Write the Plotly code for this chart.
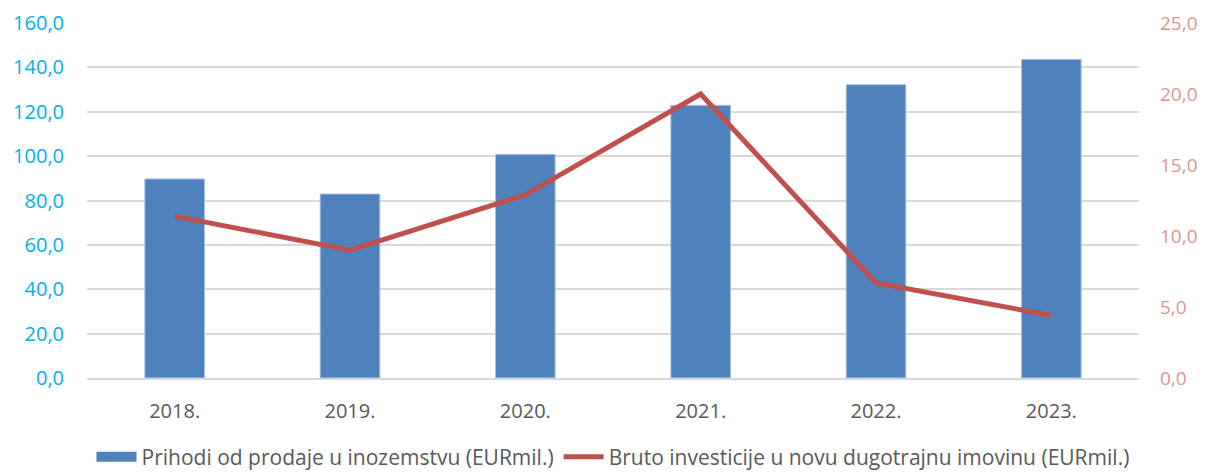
import plotly.graph_objects as go

years = ["2018.", "2019.", "2020.", "2021.", "2022.", "2023."]
revenue_abroad = [89.7, 82.9, 100.8, 122.9, 132.2, 143.6]
gross_investment = [11.4, 9.0, 12.9, 20.0, 6.7, 4.4]
left_ticks = [0, 20, 40, 60, 80, 100, 120, 140, 160]
left_labels = ["0,0", "20,0", "40,0", "60,0", "80,0", "100,0", "120,0", "140,0", "160,0"]
right_ticks = [0, 5, 10, 15, 20, 25]
right_labels = ["0,0", "5,0", "10,0", "15,0", "20,0", "25,0"]

FONT = "Open Sans"
FS = 20
BAR_NAME = "Prihodi od prodaje u inozemstvu (EURmil.)"
LINE_NAME = "Bruto investicije u novu dugotrajnu imovinu (EURmil.)"

# page body has an 8px default margin, so the figure is drawn 8px smaller
W, H = 1199, 465

fig = go.Figure()
fig.add_trace(go.Bar(
    x=years, y=revenue_abroad,
    name=BAR_NAME, showlegend=False,
    marker=dict(color="#4F81BD", line=dict(color="#A7C0DE", width=1)),
    yaxis="y",
))
# legend entry for the bars drawn as a wide rectangle
fig.add_trace(go.Scatter(
    x=[None], y=[None], name=BAR_NAME, mode="lines",
    line=dict(color="#4F81BD", width=14), yaxis="y",
))
fig.add_trace(go.Scatter(
    x=years, y=gross_investment,
    name=LINE_NAME,
    mode="lines",
    line=dict(color="#C0504D", width=5),
    yaxis="y2",
))

fig.update_layout(
    width=W, height=H,
    margin=dict(l=79, r=68, t=15, b=95, autoexpand=False),
    paper_bgcolor="white", plot_bgcolor="white",
    bargap=0.66,
    font=dict(family=FONT, size=FS, color="#595959"),
    xaxis=dict(
        showgrid=False, showline=True, linecolor="#D9D9D9", linewidth=2,
        ticks="", ticklabelstandoff=14, automargin=False,
        tickfont=dict(family=FONT, size=FS, color="#595959"),
    ),
    yaxis=dict(
        range=[0, 160], tickvals=left_ticks, ticktext=left_labels,
        showgrid=True, gridcolor="#D9D9D9", gridwidth=2, zeroline=False,
        ticks="", ticklabelstandoff=22, automargin=False,
        tickfont=dict(family=FONT, size=FS, color="#00B0F0"),
    ),
    yaxis2=dict(
        range=[0, 25], tickvals=right_ticks, ticktext=right_labels,
        overlaying="y", side="right", showgrid=False, zeroline=False,
        ticks="", ticklabelstandoff=20, automargin=False,
        tickfont=dict(family=FONT, size=19, color="#D99594"),
    ),
    legend=dict(
        orientation="h", x=0.5, xanchor="center",
        yref="container", y=16 / H, yanchor="middle",
        font=dict(family=FONT, size=21, color="#595959"),
        traceorder="normal", itemwidth=40,
    ),
)

fig.write_html("out.html")
